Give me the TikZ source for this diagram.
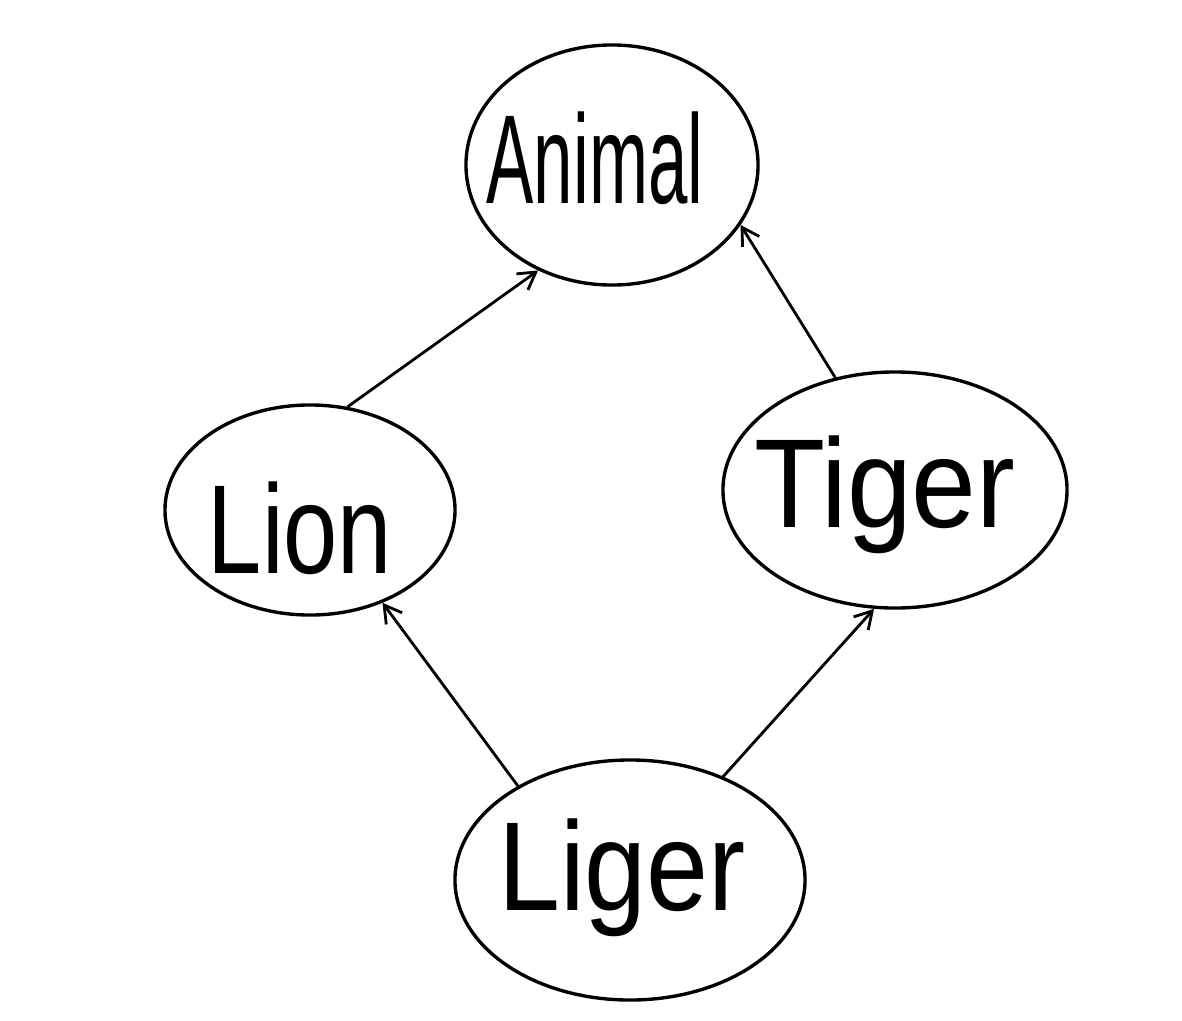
\documentclass[tikz,border=0pt]{standalone}
\usepackage{fontspec}
\setmainfont{Liberation Sans}
\usetikzlibrary{shapes.geometric,arrows.meta}
\tikzset{
  blob/.style={draw, ellipse, line width=2.4pt, inner sep=0pt},
  arr/.style={-{Straight Barb[length=12pt,width=14pt,line width=2pt]}, line width=2pt},
  hand/.style={font=\fontsize{90}{90}\selectfont}
}
\newcommand{\hw}[2]{\scalebox{#1}[1]{#2}}
\begin{document}
\begin{tikzpicture}[x=0.025cm,y=-0.025cm]
\useasboundingbox[fill=white] (0,0) rectangle (1182,1020);
\node[blob, minimum width=7.3cm, minimum height=6cm] (animal) at (612,165) {};
\node[hand] (animaltext) at (595,158) {\hw{0.56}{Animal}};
\node[blob, minimum width=7.25cm, minimum height=5.25cm] (lion) at (310,510) {};
\node[hand] (liontext) at (300,528) {\hw{0.77}{Lion}};
\node[blob, minimum width=8.6cm, minimum height=5.9cm] (tiger) at (895,490) {};
\node[hand] (tigertext) at (885,495) {\hw{0.92}{Tiger}};
\node[blob, minimum width=8.75cm, minimum height=6cm] (liger) at (630,880) {};
\node[hand] (ligertext) at (622,878) {\hw{0.88}{Liger}};
\draw[arr] (lion.70) -- (animal.-125);
\draw[arr] (tiger.118) -- (animal.-25);
\draw[arr] (liger.140) -- (lion.-52);
\draw[arr] (liger.48) -- (tiger.-100);
\end{tikzpicture}
\end{document}
